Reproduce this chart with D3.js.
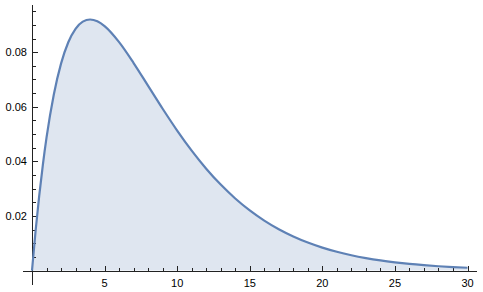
<!DOCTYPE html>
<html><head><meta charset="utf-8">
<script src="https://cdn.jsdelivr.net/npm/d3@7"></script>
<style>body{margin:0;background:#fff}svg{display:block}text{font-family:"Liberation Sans",Arial,sans-serif;font-size:11px;fill:#000}</style>
</head><body>
<svg id="c" width="483" height="292"></svg>
<script>
const xs = [0,0.25,0.5,0.75,1,1.5,2,2.5,3,3.5,4,4.5,5,6,7,8,9,10,11,12,13,14,15,16,17,18,19,20,21,22,23,24,25,26,27,28,29,30];
const ys = [0,0.01468,0.02758,0.03886,0.04868,0.06443,0.07582,0.08364,0.08857,0.09120,0.09197,0.09132,0.08953,0.08367,0.07603,0.06767,0.05929,0.05130,0.04395,0.03734,0.03150,0.02642,0.02205,0.01832,0.01515,0.01250,0.01027,0.00842,0.00689,0.00562,0.00458,0.00372,0.00302,0.00244,0.00198,0.00160,0.00129,0.00104];
const xMajor = [5,10,15,20,25,30];
const yMajor = [0.02,0.04,0.06,0.08];
const yMajorLabels = ["0.02","0.04","0.06","0.08"];

const svg = d3.select("#c");
const x = d3.scaleLinear().domain([0,30]).range([32,467.5]);
const y = d3.scaleLinear().domain([0,0.1]).range([270.6,-2.4]);
const data = xs.map((v,i)=>[v,ys[i]]);

svg.append("path").datum(data)
  .attr("d", d3.area().x(d=>x(d[0])).y0(y(0)).y1(d=>y(d[1])).curve(d3.curveMonotoneX))
  .attr("fill","#5e81b5").attr("fill-opacity",0.2);

const ax = svg.append("g").attr("stroke","#222").attr("stroke-width",1).attr("shape-rendering","crispEdges");
ax.append("line").attr("x1",23).attr("x2",477).attr("y1",Math.round(y(0))+0.5).attr("y2",Math.round(y(0))+0.5);
ax.append("line").attr("x1",x(0)).attr("x2",x(0)).attr("y1",5).attr("y2",285);

const xMinor = d3.range(1,31).filter(v=>v%5!==0);
const y0 = Math.round(y(0))+0.5;
xMinor.forEach(v=>ax.append("line").attr("x1",Math.round(x(v))+0.5).attr("x2",Math.round(x(v))+0.5).attr("y1",y0).attr("y2",y0-3.5));
xMajor.forEach(v=>ax.append("line").attr("x1",Math.round(x(v))+0.5).attr("x2",Math.round(x(v))+0.5).attr("y1",y0).attr("y2",y0-5.5));
svg.selectAll(".xl").data(xMajor).enter().append("text")
  .attr("x",d=>x(d)).attr("y",287).attr("text-anchor","middle").text(d=>d);

const yMinor = d3.range(1,20).map(i=>i*0.005).filter(v=>Math.abs(v/0.02-Math.round(v/0.02))>1e-6);
const xa = x(0);
yMinor.forEach(v=>ax.append("line").attr("x1",xa).attr("x2",xa+3.5).attr("y1",Math.round(y(v))+0.5).attr("y2",Math.round(y(v))+0.5));
yMajor.forEach(v=>ax.append("line").attr("x1",xa).attr("x2",xa+5.5).attr("y1",Math.round(y(v))+0.5).attr("y2",Math.round(y(v))+0.5));
svg.selectAll(".yl").data(yMajor).enter().append("text")
  .attr("x",27).attr("y",d=>y(d)+4).attr("text-anchor","end").text((d,i)=>yMajorLabels[i]);

svg.append("path").datum(data)
  .attr("d", d3.line().x(d=>x(d[0])).y(d=>y(d[1])).curve(d3.curveMonotoneX))
  .attr("fill","none").attr("stroke","#5e81b5").attr("stroke-width",2.2);
</script>
</body></html>
